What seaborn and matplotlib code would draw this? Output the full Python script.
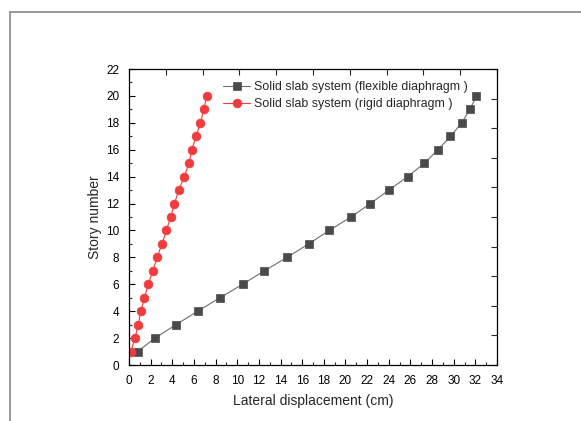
import numpy as np
import pandas as pd
import matplotlib
matplotlib.use("Agg")
import matplotlib.pyplot as plt
from matplotlib.lines import Line2D
from matplotlib.ticker import MultipleLocator
import seaborn as sns

stories = list(range(1, 21))
flexible = [0.8, 2.4, 4.35, 6.35, 8.4, 10.5, 12.5, 14.6, 16.6, 18.5,
            20.5, 22.3, 24.0, 25.75, 27.3, 28.55, 29.7, 30.75, 31.5, 32.1]
rigid = [0.18, 0.55, 0.86, 1.1, 1.42, 1.78, 2.2, 2.6, 3.05, 3.45,
         3.85, 4.2, 4.6, 5.1, 5.55, 5.8, 6.2, 6.6, 6.9, 7.2]
labels = ["Solid slab system (flexible diaphragm )",
          "Solid slab system (rigid diaphragm )"]

df = pd.concat([
    pd.DataFrame({"disp": flexible, "story": stories, "series": labels[0]}),
    pd.DataFrame({"disp": rigid, "story": stories, "series": labels[1]}),
])

sns.set_style("ticks")
plt.rcParams["font.family"] = ["Liberation Sans", "DejaVu Sans"]

fig = plt.figure(figsize=(5.81, 4.21), dpi=100)
ax = fig.add_axes([129/581, 1-365/421, (497-129)/581, (365-69)/421])

palette = {labels[0]: "#4a4a4a", labels[1]: "#f03c3c"}
line_colors = {labels[0]: "#6e6e6e", labels[1]: "#f03c3c"}
for lab, mk, ms in [(labels[0], "s", 5.4), (labels[1], "o", 6.3)]:
    sub = df[df.series == lab]
    sns.lineplot(data=sub, x="disp", y="story", ax=ax, sort=False, estimator=None,
                 color=line_colors[lab], lw=0.8, marker=mk, markersize=ms,
                 markerfacecolor=palette[lab], markeredgecolor=palette[lab],
                 markeredgewidth=0.5, label=lab)

ax.set_xlim(0, 34)
ax.set_ylim(0, 22)
ax.xaxis.set_major_locator(MultipleLocator(2))
ax.xaxis.set_minor_locator(MultipleLocator(1))
ax.yaxis.set_major_locator(MultipleLocator(2))
ax.yaxis.set_minor_locator(MultipleLocator(1))
ax.tick_params(which="major", direction="in", length=4, width=0.8, labelsize=8.5, colors="black")
ax.tick_params(axis="x", which="major", pad=7)
ax.tick_params(axis="y", which="major", pad=7)
ax.tick_params(which="minor", direction="in", length=2.2, width=0.8)
for s in ax.spines.values():
    s.set_linewidth(0.9)
    s.set_color("black")

# top and right secondary ticks
top = ax.secondary_xaxis("top")
top.set_xticks(np.arange(0, 34.01, 3.4))
top.tick_params(direction="in", length=4, width=0.8, labeltop=False)
top.spines["top"].set_visible(False)
right = ax.secondary_yaxis("right")
right.set_yticks(np.arange(0, 22.01, 2.2))
right.tick_params(direction="in", length=4, width=0.8, labelright=False)
right.spines["right"].set_visible(False)

ax.set_xlabel("Lateral displacement (cm)", fontsize=10, labelpad=5)
ax.set_ylabel("Story number", fontsize=10, labelpad=3)

leg = ax.legend(loc="upper left", bbox_to_anchor=(0.225, 0.997), frameon=False,
                fontsize=8.9, handlelength=2.2, handletextpad=0.3,
                labelspacing=0.4, borderaxespad=0.5)

# outer frame (cropped border)
fig.add_artist(Line2D([10/581, 1], [1-12/421, 1-12/421], color="#888888", lw=1.2))
fig.add_artist(Line2D([10/581, 10/581], [0, 1-12/421], color="#888888", lw=1.2))

fig.savefig("out.png", dpi=100)
